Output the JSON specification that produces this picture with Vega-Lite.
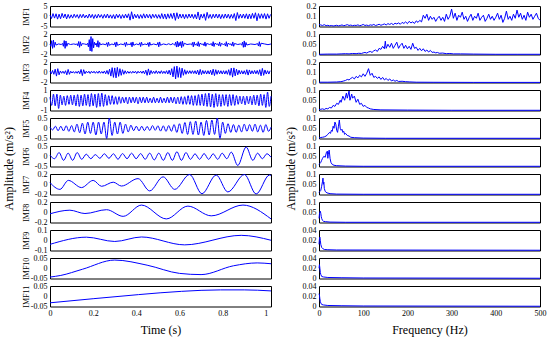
{
"$schema":"https://vega.github.io/schema/vega-lite/v6.json",
"padding":{"left":2,"top":1,"right":2,"bottom":1},
"config":{
"view":{"stroke":"#000","strokeWidth":1},
"axis":{"labelFont":"Liberation Serif","titleFont":"Liberation Serif","labelFontSize":8,"labelColor":"#000","titleColor":"#000","titleFontWeight":"normal","grid":false,"domain":false,"ticks":false,"labelOverlap":false,"labelFlush":false,"labelExpr":"toString(datum.value)"},
"axisY":{"labelPadding":3,"titleFontSize":8,"titleX":-20},
"axisX":{"titleFontSize":12,"titleFontWeight":"normal","labelPadding":3,"titlePadding":7},
"line":{"color":"#0000ff","strokeWidth":1},
"title":{"font":"Liberation Serif","fontSize":12,"fontWeight":"normal","color":"#000"},
"concat":{"spacing":7}
},
"datasets":{
"a1":[{"x":0,"y":0.6},{"x":0.007,"y":-1.1},{"x":0.014,"y":1.3},{"x":0.021,"y":-0.9},{"x":0.028,"y":1.2},{"x":0.035,"y":-1.4},{"x":0.042,"y":1},{"x":0.049,"y":-1.2},{"x":0.056,"y":1.4},{"x":0.063,"y":-0.8},{"x":0.07,"y":1.1},{"x":0.077,"y":-1.3},{"x":0.084,"y":0.9},{"x":0.091,"y":-1},{"x":0.098,"y":0.7},{"x":0.105,"y":-0.9},{"x":0.112,"y":1},{"x":0.119,"y":-0.6},{"x":0.126,"y":0.8},{"x":0.133,"y":-1},{"x":0.14,"y":0.9},{"x":0.147,"y":-0.7},{"x":0.154,"y":1},{"x":0.161,"y":-0.8},{"x":0.168,"y":0.6},{"x":0.175,"y":-0.9},{"x":0.182,"y":1.1},{"x":0.189,"y":-0.7},{"x":0.196,"y":0.9},{"x":0.203,"y":-1.1},{"x":0.21,"y":0.8},{"x":0.217,"y":-0.9},{"x":0.224,"y":1},{"x":0.231,"y":-0.6},{"x":0.238,"y":0.8},{"x":0.245,"y":-1},{"x":0.252,"y":0.9},{"x":0.259,"y":-0.8},{"x":0.266,"y":1.1},{"x":0.273,"y":-0.9},{"x":0.28,"y":0.7},{"x":0.287,"y":-1},{"x":0.294,"y":0.8},{"x":0.301,"y":-1.2},{"x":0.308,"y":1},{"x":0.315,"y":-0.7},{"x":0.322,"y":0.9},{"x":0.329,"y":-1.1},{"x":0.336,"y":0.8},{"x":0.343,"y":-0.9},{"x":0.35,"y":1},{"x":0.357,"y":-0.8},{"x":0.364,"y":1.2},{"x":0.371,"y":-1.9},{"x":0.378,"y":2.2},{"x":0.385,"y":-1.3},{"x":0.392,"y":1},{"x":0.399,"y":-0.8},{"x":0.406,"y":0.9},{"x":0.413,"y":-1.1},{"x":0.42,"y":0.8},{"x":0.427,"y":-1},{"x":0.434,"y":1.2},{"x":0.441,"y":-0.9},{"x":0.448,"y":1},{"x":0.455,"y":-0.8},{"x":0.462,"y":0.9},{"x":0.469,"y":-1.1},{"x":0.476,"y":1},{"x":0.483,"y":-0.7},{"x":0.49,"y":0.9},{"x":0.497,"y":-1},{"x":0.504,"y":0.8},{"x":0.511,"y":-1.1},{"x":0.518,"y":1.3},{"x":0.525,"y":-1.2},{"x":0.532,"y":1.1},{"x":0.539,"y":-1.4},{"x":0.546,"y":1.2},{"x":0.553,"y":-1},{"x":0.56,"y":1.3},{"x":0.567,"y":-1.1},{"x":0.574,"y":1.6},{"x":0.581,"y":-2},{"x":0.588,"y":1.7},{"x":0.595,"y":-1.2},{"x":0.602,"y":1.1},{"x":0.609,"y":-0.9},{"x":0.616,"y":1},{"x":0.623,"y":-1.2},{"x":0.63,"y":0.9},{"x":0.637,"y":-1},{"x":0.644,"y":1.1},{"x":0.651,"y":-0.8},{"x":0.658,"y":1},{"x":0.665,"y":-1.1},{"x":0.672,"y":0.9},{"x":0.679,"y":-1.3},{"x":0.686,"y":2.1},{"x":0.693,"y":-1.8},{"x":0.7,"y":1},{"x":0.707,"y":-0.9},{"x":0.714,"y":1.2},{"x":0.721,"y":-2},{"x":0.728,"y":1.9},{"x":0.735,"y":-1},{"x":0.742,"y":0.9},{"x":0.749,"y":-1.1},{"x":0.756,"y":1},{"x":0.763,"y":-0.8},{"x":0.77,"y":1.1},{"x":0.777,"y":-0.9},{"x":0.784,"y":1},{"x":0.791,"y":-1.2},{"x":0.798,"y":0.9},{"x":0.805,"y":-1},{"x":0.812,"y":1.1},{"x":0.819,"y":-0.9},{"x":0.826,"y":1},{"x":0.833,"y":-1.1},{"x":0.84,"y":0.9},{"x":0.847,"y":-1},{"x":0.854,"y":1.3},{"x":0.861,"y":-2.1},{"x":0.868,"y":1.8},{"x":0.875,"y":-1.1},{"x":0.882,"y":1},{"x":0.889,"y":-0.9},{"x":0.896,"y":1.1},{"x":0.903,"y":-1},{"x":0.91,"y":1.2},{"x":0.917,"y":-1.3},{"x":0.924,"y":1.1},{"x":0.931,"y":-1.2},{"x":0.938,"y":1.4},{"x":0.945,"y":-1},{"x":0.952,"y":1.7},{"x":0.959,"y":-2.2},{"x":0.966,"y":1.3},{"x":0.973,"y":-1.1},{"x":0.98,"y":1.2},{"x":0.987,"y":-1},{"x":0.994,"y":1.3},{"x":1.001,"y":-1.4},{"x":1.008,"y":1.2},{"x":1.015,"y":-1},{"x":1.022,"y":0.9}],
"a2":[{"x":0,"y":0.05},{"x":0.004,"y":-0.4},{"x":0.008,"y":0.7},{"x":0.012,"y":-0.8},{"x":0.016,"y":0.8},{"x":0.02,"y":-0.6},{"x":0.024,"y":0.4},{"x":0.028,"y":-0.15},{"x":0.04,"y":0.06},{"x":0.052,"y":-0.05},{"x":0.058,"y":0.16},{"x":0.062,"y":-0.4},{"x":0.066,"y":0.72},{"x":0.07,"y":-0.8},{"x":0.074,"y":0.64},{"x":0.078,"y":-0.4},{"x":0.082,"y":0.16},{"x":0.095,"y":-0.05},{"x":0.11,"y":0.06},{"x":0.122,"y":-0.05},{"x":0.125,"y":0.12},{"x":0.129,"y":-0.3},{"x":0.133,"y":0.54},{"x":0.137,"y":-0.6},{"x":0.141,"y":0.48},{"x":0.145,"y":-0.3},{"x":0.149,"y":0.12},{"x":0.16,"y":0.05},{"x":0.17,"y":-0.06},{"x":0.174,"y":0.2},{"x":0.178,"y":-0.5},{"x":0.182,"y":0.9},{"x":0.186,"y":-1.3},{"x":0.19,"y":1.5},{"x":0.194,"y":-1.4},{"x":0.198,"y":1.1},{"x":0.202,"y":-0.7},{"x":0.206,"y":0.4},{"x":0.21,"y":-0.15},{"x":0.214,"y":0.2},{"x":0.218,"y":-0.5},{"x":0.222,"y":0.7},{"x":0.226,"y":-0.6},{"x":0.23,"y":0.35},{"x":0.234,"y":-0.1},{"x":0.245,"y":0.05},{"x":0.259,"y":-0.1},{"x":0.263,"y":0.3},{"x":0.267,"y":-0.45},{"x":0.271,"y":0.4},{"x":0.275,"y":-0.2},{"x":0.287,"y":0.05},{"x":0.297,"y":-0.12},{"x":0.301,"y":0.35},{"x":0.305,"y":-0.5},{"x":0.309,"y":0.45},{"x":0.313,"y":-0.2},{"x":0.328,"y":0.05},{"x":0.342,"y":-0.1},{"x":0.346,"y":0.3},{"x":0.35,"y":-0.45},{"x":0.354,"y":0.4},{"x":0.358,"y":-0.15},{"x":0.366,"y":0.04},{"x":0.372,"y":-0.12},{"x":0.376,"y":0.35},{"x":0.38,"y":-0.5},{"x":0.384,"y":0.45},{"x":0.388,"y":-0.2},{"x":0.4,"y":0.05},{"x":0.412,"y":-0.1},{"x":0.416,"y":0.3},{"x":0.42,"y":-0.45},{"x":0.424,"y":0.4},{"x":0.428,"y":-0.15},{"x":0.44,"y":0.05},{"x":0.45,"y":-0.1},{"x":0.454,"y":0.3},{"x":0.458,"y":-0.45},{"x":0.462,"y":0.4},{"x":0.466,"y":-0.15},{"x":0.48,"y":0.05},{"x":0.496,"y":-0.12},{"x":0.5,"y":0.35},{"x":0.504,"y":-0.5},{"x":0.508,"y":0.45},{"x":0.512,"y":-0.2},{"x":0.525,"y":0.06},{"x":0.54,"y":-0.08},{"x":0.55,"y":0.1},{"x":0.56,"y":-0.1},{"x":0.57,"y":0.15},{"x":0.578,"y":-0.2},{"x":0.582,"y":0.4},{"x":0.586,"y":-0.55},{"x":0.59,"y":0.6},{"x":0.594,"y":-0.5},{"x":0.598,"y":0.35},{"x":0.602,"y":-0.3},{"x":0.606,"y":0.5},{"x":0.61,"y":-0.65},{"x":0.614,"y":0.6},{"x":0.618,"y":-0.4},{"x":0.622,"y":0.2},{"x":0.635,"y":-0.05},{"x":0.65,"y":0.05},{"x":0.656,"y":-0.12},{"x":0.66,"y":0.35},{"x":0.664,"y":-0.5},{"x":0.668,"y":0.45},{"x":0.672,"y":-0.2},{"x":0.679,"y":0.12},{"x":0.683,"y":-0.35},{"x":0.687,"y":0.5},{"x":0.691,"y":-0.45},{"x":0.695,"y":0.2},{"x":0.705,"y":-0.05},{"x":0.71,"y":0.1},{"x":0.714,"y":-0.3},{"x":0.718,"y":0.45},{"x":0.722,"y":-0.4},{"x":0.726,"y":0.15},{"x":0.74,"y":-0.05},{"x":0.748,"y":0.12},{"x":0.752,"y":-0.35},{"x":0.756,"y":0.5},{"x":0.76,"y":-0.45},{"x":0.764,"y":0.2},{"x":0.774,"y":-0.05},{"x":0.778,"y":0.1},{"x":0.782,"y":-0.3},{"x":0.786,"y":0.45},{"x":0.79,"y":-0.4},{"x":0.794,"y":0.15},{"x":0.804,"y":-0.05},{"x":0.809,"y":0.12},{"x":0.813,"y":-0.35},{"x":0.817,"y":0.5},{"x":0.821,"y":-0.45},{"x":0.825,"y":0.2},{"x":0.834,"y":-0.05},{"x":0.839,"y":0.1},{"x":0.843,"y":-0.3},{"x":0.847,"y":0.45},{"x":0.851,"y":-0.4},{"x":0.855,"y":0.15},{"x":0.87,"y":-0.05},{"x":0.882,"y":0.06},{"x":0.888,"y":-0.15},{"x":0.892,"y":0.4},{"x":0.896,"y":-0.6},{"x":0.9,"y":0.65},{"x":0.904,"y":-0.55},{"x":0.908,"y":0.35},{"x":0.912,"y":-0.15},{"x":0.93,"y":0.05},{"x":0.95,"y":-0.05},{"x":0.962,"y":0.12},{"x":0.966,"y":-0.35},{"x":0.97,"y":0.5},{"x":0.974,"y":-0.45},{"x":0.978,"y":0.2},{"x":0.995,"y":0.05},{"x":1.01,"y":-0.08},{"x":1.024,"y":0.05}],
"a3":[{"x":0,"y":0.25},{"x":0.006,"y":-0.3},{"x":0.012,"y":0.35},{"x":0.018,"y":-0.4},{"x":0.024,"y":0.6},{"x":0.03,"y":-0.75},{"x":0.036,"y":0.7},{"x":0.042,"y":-0.5},{"x":0.048,"y":0.25},{"x":0.054,"y":-0.2},{"x":0.06,"y":0.2},{"x":0.066,"y":-0.25},{"x":0.072,"y":0.3},{"x":0.078,"y":-0.5},{"x":0.084,"y":0.55},{"x":0.09,"y":-0.4},{"x":0.096,"y":0.2},{"x":0.102,"y":-0.15},{"x":0.108,"y":0.15},{"x":0.114,"y":-0.2},{"x":0.12,"y":0.15},{"x":0.126,"y":-0.2},{"x":0.132,"y":0.25},{"x":0.138,"y":-0.3},{"x":0.144,"y":0.55},{"x":0.15,"y":-0.65},{"x":0.156,"y":0.5},{"x":0.162,"y":-0.3},{"x":0.168,"y":0.2},{"x":0.174,"y":-0.15},{"x":0.18,"y":0.2},{"x":0.186,"y":-0.25},{"x":0.192,"y":0.2},{"x":0.198,"y":-0.15},{"x":0.204,"y":0.2},{"x":0.21,"y":-0.2},{"x":0.216,"y":0.15},{"x":0.222,"y":-0.2},{"x":0.228,"y":0.25},{"x":0.234,"y":-0.2},{"x":0.24,"y":0.15},{"x":0.246,"y":-0.2},{"x":0.252,"y":0.25},{"x":0.258,"y":-0.3},{"x":0.264,"y":0.35},{"x":0.27,"y":-0.4},{"x":0.276,"y":0.6},{"x":0.282,"y":-0.75},{"x":0.288,"y":0.9},{"x":0.294,"y":-1},{"x":0.3,"y":0.85},{"x":0.306,"y":-1.1},{"x":0.312,"y":0.95},{"x":0.318,"y":-0.8},{"x":0.324,"y":0.7},{"x":0.33,"y":-0.6},{"x":0.336,"y":0.5},{"x":0.342,"y":-0.4},{"x":0.348,"y":0.3},{"x":0.354,"y":-0.25},{"x":0.36,"y":0.2},{"x":0.366,"y":-0.2},{"x":0.372,"y":0.15},{"x":0.378,"y":-0.2},{"x":0.384,"y":0.2},{"x":0.39,"y":-0.15},{"x":0.396,"y":0.2},{"x":0.402,"y":-0.25},{"x":0.408,"y":0.2},{"x":0.414,"y":-0.15},{"x":0.42,"y":0.2},{"x":0.426,"y":-0.2},{"x":0.432,"y":0.25},{"x":0.438,"y":-0.3},{"x":0.444,"y":0.4},{"x":0.45,"y":-0.6},{"x":0.456,"y":0.65},{"x":0.462,"y":-0.5},{"x":0.468,"y":0.35},{"x":0.474,"y":-0.25},{"x":0.48,"y":0.2},{"x":0.486,"y":-0.25},{"x":0.492,"y":0.3},{"x":0.498,"y":-0.25},{"x":0.504,"y":0.2},{"x":0.51,"y":-0.25},{"x":0.516,"y":0.3},{"x":0.522,"y":-0.25},{"x":0.528,"y":0.2},{"x":0.534,"y":-0.25},{"x":0.54,"y":0.3},{"x":0.546,"y":-0.35},{"x":0.552,"y":0.4},{"x":0.558,"y":-0.5},{"x":0.564,"y":0.7},{"x":0.57,"y":-0.9},{"x":0.576,"y":1.1},{"x":0.582,"y":-1.3},{"x":0.588,"y":1.2},{"x":0.594,"y":-1},{"x":0.6,"y":0.9},{"x":0.606,"y":-1.05},{"x":0.612,"y":0.8},{"x":0.618,"y":-0.6},{"x":0.624,"y":0.5},{"x":0.63,"y":-0.4},{"x":0.636,"y":0.3},{"x":0.642,"y":-0.25},{"x":0.648,"y":0.3},{"x":0.654,"y":-0.25},{"x":0.66,"y":0.3},{"x":0.666,"y":-0.25},{"x":0.672,"y":0.3},{"x":0.678,"y":-0.35},{"x":0.684,"y":0.4},{"x":0.69,"y":-0.5},{"x":0.696,"y":0.55},{"x":0.702,"y":-0.45},{"x":0.708,"y":0.35},{"x":0.714,"y":-0.3},{"x":0.72,"y":0.3},{"x":0.726,"y":-0.35},{"x":0.732,"y":0.3},{"x":0.738,"y":-0.35},{"x":0.744,"y":0.4},{"x":0.75,"y":-0.5},{"x":0.756,"y":0.6},{"x":0.762,"y":-0.65},{"x":0.768,"y":0.5},{"x":0.774,"y":-0.4},{"x":0.78,"y":0.35},{"x":0.786,"y":-0.3},{"x":0.792,"y":0.3},{"x":0.798,"y":-0.35},{"x":0.804,"y":0.3},{"x":0.81,"y":-0.35},{"x":0.816,"y":0.3},{"x":0.822,"y":-0.4},{"x":0.828,"y":0.5},{"x":0.834,"y":-0.6},{"x":0.84,"y":0.8},{"x":0.846,"y":-0.95},{"x":0.852,"y":0.85},{"x":0.858,"y":-0.7},{"x":0.864,"y":0.6},{"x":0.87,"y":-0.5},{"x":0.876,"y":0.4},{"x":0.882,"y":-0.35},{"x":0.888,"y":0.3},{"x":0.894,"y":-0.35},{"x":0.9,"y":0.3},{"x":0.906,"y":-0.4},{"x":0.912,"y":0.5},{"x":0.918,"y":-0.55},{"x":0.924,"y":0.45},{"x":0.93,"y":-0.35},{"x":0.936,"y":0.3},{"x":0.942,"y":-0.3},{"x":0.948,"y":0.35},{"x":0.954,"y":-0.3},{"x":0.96,"y":0.35},{"x":0.966,"y":-0.4},{"x":0.972,"y":0.5},{"x":0.978,"y":-0.7},{"x":0.984,"y":0.75},{"x":0.99,"y":-0.6},{"x":0.996,"y":0.45},{"x":1.002,"y":-0.35},{"x":1.008,"y":0.3},{"x":1.014,"y":-0.35},{"x":1.02,"y":0.3}],
"a4":[{"x":0,"y":0.3},{"x":0.008,"y":-0.5},{"x":0.016,"y":0.6},{"x":0.024,"y":-0.55},{"x":0.032,"y":0.6},{"x":0.04,"y":-0.8},{"x":0.048,"y":0.5},{"x":0.056,"y":-0.45},{"x":0.064,"y":0.4},{"x":0.072,"y":-0.5},{"x":0.08,"y":0.45},{"x":0.088,"y":-0.4},{"x":0.096,"y":0.5},{"x":0.104,"y":-0.45},{"x":0.112,"y":0.5},{"x":0.12,"y":-0.55},{"x":0.128,"y":0.55},{"x":0.136,"y":-0.6},{"x":0.144,"y":0.5},{"x":0.152,"y":-0.55},{"x":0.16,"y":0.6},{"x":0.168,"y":-0.5},{"x":0.176,"y":0.55},{"x":0.184,"y":-0.6},{"x":0.192,"y":0.65},{"x":0.2,"y":-0.55},{"x":0.208,"y":0.6},{"x":0.216,"y":-0.7},{"x":0.224,"y":0.65},{"x":0.232,"y":-0.6},{"x":0.24,"y":0.7},{"x":0.248,"y":-0.6},{"x":0.256,"y":0.55},{"x":0.264,"y":-0.5},{"x":0.272,"y":0.45},{"x":0.28,"y":-0.4},{"x":0.288,"y":0.45},{"x":0.296,"y":-0.4},{"x":0.304,"y":0.35},{"x":0.312,"y":-0.4},{"x":0.32,"y":0.35},{"x":0.328,"y":-0.3},{"x":0.336,"y":0.3},{"x":0.344,"y":-0.25},{"x":0.352,"y":0.3},{"x":0.36,"y":-0.35},{"x":0.368,"y":0.3},{"x":0.376,"y":-0.25},{"x":0.384,"y":0.3},{"x":0.392,"y":-0.25},{"x":0.4,"y":0.3},{"x":0.408,"y":-0.35},{"x":0.416,"y":0.3},{"x":0.424,"y":-0.25},{"x":0.432,"y":0.3},{"x":0.44,"y":-0.25},{"x":0.448,"y":0.3},{"x":0.456,"y":-0.25},{"x":0.464,"y":0.2},{"x":0.472,"y":-0.25},{"x":0.48,"y":0.3},{"x":0.488,"y":-0.25},{"x":0.496,"y":0.2},{"x":0.504,"y":-0.25},{"x":0.512,"y":0.3},{"x":0.52,"y":-0.25},{"x":0.528,"y":0.2},{"x":0.536,"y":-0.25},{"x":0.544,"y":0.3},{"x":0.552,"y":-0.25},{"x":0.56,"y":0.3},{"x":0.568,"y":-0.25},{"x":0.576,"y":0.3},{"x":0.584,"y":-0.35},{"x":0.592,"y":0.3},{"x":0.6,"y":-0.35},{"x":0.608,"y":0.35},{"x":0.616,"y":-0.4},{"x":0.624,"y":0.35},{"x":0.632,"y":-0.4},{"x":0.64,"y":0.45},{"x":0.648,"y":-0.4},{"x":0.656,"y":0.45},{"x":0.664,"y":-0.5},{"x":0.672,"y":0.45},{"x":0.68,"y":-0.5},{"x":0.688,"y":0.55},{"x":0.696,"y":-0.5},{"x":0.704,"y":0.6},{"x":0.712,"y":-0.55},{"x":0.72,"y":0.65},{"x":0.728,"y":-0.6},{"x":0.736,"y":0.7},{"x":0.744,"y":-0.65},{"x":0.752,"y":0.6},{"x":0.76,"y":-0.7},{"x":0.768,"y":0.65},{"x":0.776,"y":-0.6},{"x":0.784,"y":0.55},{"x":0.792,"y":-0.6},{"x":0.8,"y":0.55},{"x":0.808,"y":-0.5},{"x":0.816,"y":0.55},{"x":0.824,"y":-0.6},{"x":0.832,"y":0.55},{"x":0.84,"y":-0.5},{"x":0.848,"y":0.55},{"x":0.856,"y":-0.5},{"x":0.864,"y":0.45},{"x":0.872,"y":-0.4},{"x":0.88,"y":0.4},{"x":0.888,"y":-0.35},{"x":0.896,"y":0.4},{"x":0.904,"y":-0.45},{"x":0.912,"y":0.4},{"x":0.92,"y":-0.35},{"x":0.928,"y":0.4},{"x":0.936,"y":-0.45},{"x":0.944,"y":0.5},{"x":0.952,"y":-0.45},{"x":0.96,"y":0.5},{"x":0.968,"y":-0.55},{"x":0.976,"y":0.6},{"x":0.984,"y":-0.5},{"x":0.992,"y":0.55},{"x":1,"y":-0.7},{"x":1.008,"y":0.8},{"x":1.016,"y":-0.6},{"x":1.024,"y":0.4}],
"a5":[{"x":0,"y":0.05},{"x":0.0125,"y":-0.08},{"x":0.025,"y":0.1},{"x":0.0375,"y":-0.12},{"x":0.05,"y":0.1},{"x":0.0625,"y":-0.13},{"x":0.075,"y":0.12},{"x":0.0875,"y":-0.15},{"x":0.1,"y":0.13},{"x":0.1125,"y":-0.18},{"x":0.125,"y":0.2},{"x":0.1375,"y":-0.22},{"x":0.15,"y":0.25},{"x":0.1625,"y":-0.28},{"x":0.175,"y":0.3},{"x":0.1875,"y":-0.25},{"x":0.2,"y":0.3},{"x":0.2125,"y":-0.33},{"x":0.225,"y":0.3},{"x":0.2375,"y":-0.28},{"x":0.25,"y":0.3},{"x":0.2625,"y":-0.5},{"x":0.275,"y":0.5},{"x":0.2875,"y":-0.35},{"x":0.3,"y":0.3},{"x":0.3125,"y":-0.28},{"x":0.325,"y":0.3},{"x":0.3375,"y":-0.25},{"x":0.35,"y":0.2},{"x":0.3625,"y":-0.18},{"x":0.375,"y":0.15},{"x":0.3875,"y":-0.12},{"x":0.4,"y":0.1},{"x":0.4125,"y":-0.13},{"x":0.425,"y":0.1},{"x":0.4375,"y":-0.12},{"x":0.45,"y":0.09},{"x":0.4625,"y":-0.11},{"x":0.475,"y":0.13},{"x":0.4875,"y":-0.1},{"x":0.5,"y":0.12},{"x":0.5125,"y":-0.14},{"x":0.525,"y":0.12},{"x":0.5375,"y":-0.15},{"x":0.55,"y":0.13},{"x":0.5625,"y":-0.15},{"x":0.575,"y":0.18},{"x":0.5875,"y":-0.2},{"x":0.6,"y":0.22},{"x":0.6125,"y":-0.25},{"x":0.625,"y":0.28},{"x":0.6375,"y":-0.3},{"x":0.65,"y":0.32},{"x":0.6625,"y":-0.3},{"x":0.675,"y":0.35},{"x":0.6875,"y":-0.33},{"x":0.7,"y":0.3},{"x":0.7125,"y":-0.35},{"x":0.725,"y":0.38},{"x":0.7375,"y":-0.33},{"x":0.75,"y":0.4},{"x":0.7625,"y":-0.3},{"x":0.775,"y":0.5},{"x":0.7875,"y":-0.5},{"x":0.8,"y":0.3},{"x":0.8125,"y":-0.25},{"x":0.825,"y":0.22},{"x":0.8375,"y":-0.2},{"x":0.85,"y":0.18},{"x":0.8625,"y":-0.2},{"x":0.875,"y":0.15},{"x":0.8875,"y":-0.18},{"x":0.9,"y":0.2},{"x":0.9125,"y":-0.15},{"x":0.925,"y":0.18},{"x":0.9375,"y":-0.15},{"x":0.95,"y":0.2},{"x":0.9625,"y":-0.18},{"x":0.975,"y":0.15},{"x":0.9875,"y":-0.2},{"x":1,"y":0.18},{"x":1.0125,"y":-0.15},{"x":1.024,"y":0.05}],
"a6":[{"x":0,"y":0.05},{"x":0.021,"y":-0.12},{"x":0.042,"y":0.18},{"x":0.063,"y":-0.2},{"x":0.084,"y":0.15},{"x":0.105,"y":-0.2},{"x":0.126,"y":0.18},{"x":0.147,"y":-0.15},{"x":0.168,"y":0.1},{"x":0.189,"y":-0.12},{"x":0.21,"y":0.08},{"x":0.231,"y":-0.1},{"x":0.252,"y":0.12},{"x":0.273,"y":-0.1},{"x":0.294,"y":0.12},{"x":0.315,"y":-0.15},{"x":0.336,"y":0.13},{"x":0.357,"y":-0.12},{"x":0.378,"y":0.15},{"x":0.399,"y":-0.12},{"x":0.42,"y":0.13},{"x":0.441,"y":-0.15},{"x":0.462,"y":0.15},{"x":0.483,"y":-0.18},{"x":0.504,"y":0.15},{"x":0.525,"y":-0.2},{"x":0.546,"y":0.18},{"x":0.567,"y":-0.2},{"x":0.588,"y":0.22},{"x":0.609,"y":-0.2},{"x":0.63,"y":0.18},{"x":0.651,"y":-0.15},{"x":0.672,"y":0.12},{"x":0.693,"y":-0.15},{"x":0.714,"y":0.13},{"x":0.735,"y":-0.15},{"x":0.756,"y":0.12},{"x":0.777,"y":-0.15},{"x":0.798,"y":0.15},{"x":0.819,"y":-0.12},{"x":0.84,"y":0.2},{"x":0.87,"y":-0.45},{"x":0.909,"y":0.45},{"x":0.94,"y":-0.2},{"x":0.962,"y":0.15},{"x":0.984,"y":-0.12},{"x":1.005,"y":0.12},{"x":1.024,"y":-0.05}],
"a7":[{"x":0,"y":0.03},{"x":0.046,"y":-0.1},{"x":0.085,"y":0.075},{"x":0.146,"y":-0.065},{"x":0.2,"y":0.075},{"x":0.239,"y":-0.04},{"x":0.293,"y":0.04},{"x":0.331,"y":-0.035},{"x":0.408,"y":0.11},{"x":0.462,"y":-0.13},{"x":0.524,"y":0.145},{"x":0.578,"y":-0.1},{"x":0.647,"y":0.19},{"x":0.704,"y":-0.185},{"x":0.77,"y":0.18},{"x":0.824,"y":-0.15},{"x":0.901,"y":0.19},{"x":0.955,"y":-0.19},{"x":1.017,"y":0.18},{"x":1.024,"y":0.17}],
"a8":[{"x":0,"y":-0.03},{"x":0.092,"y":0.04},{"x":0.162,"y":-0.025},{"x":0.262,"y":0.05},{"x":0.339,"y":-0.08},{"x":0.424,"y":0.14},{"x":0.539,"y":-0.13},{"x":0.639,"y":0.12},{"x":0.747,"y":-0.07},{"x":0.894,"y":0.14},{"x":1.024,"y":-0.13}],
"a9":[{"x":0,"y":-0.04},{"x":0.169,"y":0.03},{"x":0.3,"y":-0.012},{"x":0.424,"y":0.032},{"x":0.624,"y":-0.045},{"x":0.886,"y":0.048},{"x":1.024,"y":0}],
"a10":[{"x":0,"y":-0.043},{"x":0.05,"y":-0.035},{"x":0.15,"y":-0.005},{"x":0.3,"y":0.04},{"x":0.45,"y":0.015},{"x":0.6,"y":-0.025},{"x":0.7,"y":-0.031},{"x":0.85,"y":0.012},{"x":0.96,"y":0.026},{"x":1.024,"y":0.022}],
"a11":[{"x":0,"y":-0.032},{"x":0.2,"y":-0.012},{"x":0.41,"y":0.008},{"x":0.61,"y":0.024},{"x":0.79,"y":0.031},{"x":0.9,"y":0.031},{"x":1.024,"y":0.026}],
"b1":[{"x":0,"y":0.02},{"x":4,"y":0.015},{"x":8,"y":0.01},{"x":12,"y":0.018},{"x":16,"y":0.008},{"x":20,"y":0.012},{"x":24,"y":0.006},{"x":28,"y":0.01},{"x":32,"y":0.005},{"x":36,"y":0.008},{"x":40,"y":0.012},{"x":44,"y":0.006},{"x":48,"y":0.01},{"x":52,"y":0.015},{"x":56,"y":0.008},{"x":60,"y":0.012},{"x":64,"y":0.018},{"x":68,"y":0.01},{"x":72,"y":0.014},{"x":76,"y":0.008},{"x":80,"y":0.012},{"x":84,"y":0.01},{"x":88,"y":0.016},{"x":92,"y":0.008},{"x":96,"y":0.012},{"x":100,"y":0.02},{"x":104,"y":0.01},{"x":108,"y":0.014},{"x":112,"y":0.008},{"x":116,"y":0.016},{"x":120,"y":0.012},{"x":124,"y":0.02},{"x":128,"y":0.01},{"x":132,"y":0.015},{"x":136,"y":0.022},{"x":140,"y":0.012},{"x":144,"y":0.018},{"x":148,"y":0.025},{"x":152,"y":0.015},{"x":156,"y":0.028},{"x":160,"y":0.02},{"x":164,"y":0.03},{"x":168,"y":0.018},{"x":172,"y":0.032},{"x":176,"y":0.025},{"x":180,"y":0.035},{"x":184,"y":0.022},{"x":188,"y":0.04},{"x":192,"y":0.03},{"x":196,"y":0.045},{"x":200,"y":0.028},{"x":204,"y":0.05},{"x":208,"y":0.035},{"x":212,"y":0.045},{"x":216,"y":0.03},{"x":220,"y":0.055},{"x":224,"y":0.04},{"x":228,"y":0.06},{"x":232,"y":0.045},{"x":236,"y":0.11},{"x":240,"y":0.08},{"x":244,"y":0.12},{"x":248,"y":0.06},{"x":252,"y":0.1},{"x":256,"y":0.07},{"x":260,"y":0.09},{"x":264,"y":0.05},{"x":268,"y":0.08},{"x":272,"y":0.1},{"x":276,"y":0.06},{"x":280,"y":0.09},{"x":284,"y":0.05},{"x":288,"y":0.12},{"x":292,"y":0.07},{"x":296,"y":0.1},{"x":300,"y":0.17},{"x":304,"y":0.08},{"x":308,"y":0.13},{"x":312,"y":0.06},{"x":316,"y":0.11},{"x":320,"y":0.09},{"x":324,"y":0.14},{"x":328,"y":0.07},{"x":332,"y":0.1},{"x":336,"y":0.05},{"x":340,"y":0.09},{"x":344,"y":0.12},{"x":348,"y":0.06},{"x":352,"y":0.1},{"x":356,"y":0.08},{"x":360,"y":0.13},{"x":364,"y":0.06},{"x":368,"y":0.09},{"x":372,"y":0.11},{"x":376,"y":0.05},{"x":380,"y":0.08},{"x":384,"y":0.12},{"x":388,"y":0.07},{"x":392,"y":0.1},{"x":396,"y":0.06},{"x":400,"y":0.09},{"x":404,"y":0.13},{"x":408,"y":0.07},{"x":412,"y":0.11},{"x":416,"y":0.04},{"x":420,"y":0.08},{"x":424,"y":0.15},{"x":428,"y":0.07},{"x":432,"y":0.1},{"x":436,"y":0.06},{"x":440,"y":0.12},{"x":444,"y":0.08},{"x":448,"y":0.16},{"x":452,"y":0.09},{"x":456,"y":0.13},{"x":460,"y":0.07},{"x":464,"y":0.11},{"x":468,"y":0.06},{"x":472,"y":0.14},{"x":476,"y":0.09},{"x":480,"y":0.12},{"x":484,"y":0.07},{"x":488,"y":0.1},{"x":492,"y":0.13},{"x":496,"y":0.08},{"x":500,"y":0.06}],
"b2":[{"x":0,"y":0.001},{"x":20,"y":0.002},{"x":40,"y":0.002},{"x":50,"y":0.003},{"x":60,"y":0.004},{"x":68,"y":0.003},{"x":76,"y":0.005},{"x":84,"y":0.004},{"x":90,"y":0.006},{"x":96,"y":0.005},{"x":100,"y":0.008},{"x":104,"y":0.01},{"x":108,"y":0.007},{"x":112,"y":0.012},{"x":116,"y":0.015},{"x":120,"y":0.01},{"x":124,"y":0.018},{"x":128,"y":0.022},{"x":132,"y":0.015},{"x":136,"y":0.03},{"x":140,"y":0.025},{"x":144,"y":0.04},{"x":148,"y":0.028},{"x":150,"y":0.065},{"x":152,"y":0.03},{"x":156,"y":0.05},{"x":160,"y":0.035},{"x":164,"y":0.055},{"x":168,"y":0.03},{"x":172,"y":0.045},{"x":176,"y":0.06},{"x":180,"y":0.03},{"x":184,"y":0.045},{"x":188,"y":0.055},{"x":192,"y":0.03},{"x":196,"y":0.045},{"x":200,"y":0.028},{"x":204,"y":0.04},{"x":208,"y":0.025},{"x":212,"y":0.055},{"x":216,"y":0.03},{"x":220,"y":0.035},{"x":224,"y":0.02},{"x":228,"y":0.03},{"x":232,"y":0.018},{"x":236,"y":0.028},{"x":240,"y":0.015},{"x":244,"y":0.022},{"x":248,"y":0.012},{"x":252,"y":0.02},{"x":256,"y":0.01},{"x":260,"y":0.012},{"x":264,"y":0.008},{"x":268,"y":0.01},{"x":272,"y":0.006},{"x":280,"y":0.007},{"x":288,"y":0.004},{"x":296,"y":0.005},{"x":304,"y":0.003},{"x":320,"y":0.003},{"x":350,"y":0.002},{"x":400,"y":0.001},{"x":450,"y":0.001},{"x":500,"y":0.001}],
"b3":[{"x":0,"y":0.003},{"x":20,"y":0.003},{"x":40,"y":0.005},{"x":48,"y":0.008},{"x":52,"y":0.01},{"x":56,"y":0.015},{"x":60,"y":0.02},{"x":64,"y":0.03},{"x":68,"y":0.025},{"x":72,"y":0.04},{"x":76,"y":0.05},{"x":80,"y":0.035},{"x":84,"y":0.06},{"x":88,"y":0.045},{"x":92,"y":0.07},{"x":96,"y":0.055},{"x":100,"y":0.085},{"x":104,"y":0.06},{"x":108,"y":0.09},{"x":112,"y":0.135},{"x":116,"y":0.07},{"x":120,"y":0.09},{"x":124,"y":0.05},{"x":128,"y":0.06},{"x":132,"y":0.04},{"x":136,"y":0.055},{"x":140,"y":0.03},{"x":144,"y":0.05},{"x":148,"y":0.025},{"x":152,"y":0.04},{"x":156,"y":0.02},{"x":160,"y":0.035},{"x":164,"y":0.015},{"x":168,"y":0.025},{"x":172,"y":0.012},{"x":176,"y":0.02},{"x":180,"y":0.01},{"x":188,"y":0.012},{"x":196,"y":0.008},{"x":204,"y":0.006},{"x":220,"y":0.003},{"x":260,"y":0.002},{"x":350,"y":0.001},{"x":500,"y":0.001}],
"b4":[{"x":0,"y":0.004},{"x":4,"y":0.006},{"x":8,"y":0.008},{"x":12,"y":0.005},{"x":16,"y":0.01},{"x":20,"y":0.008},{"x":24,"y":0.015},{"x":28,"y":0.012},{"x":32,"y":0.025},{"x":36,"y":0.02},{"x":40,"y":0.035},{"x":44,"y":0.03},{"x":48,"y":0.05},{"x":50,"y":0.04},{"x":54,"y":0.07},{"x":58,"y":0.05},{"x":62,"y":0.085},{"x":64,"y":0.06},{"x":68,"y":0.095},{"x":70,"y":0.05},{"x":74,"y":0.08},{"x":76,"y":0.06},{"x":80,"y":0.07},{"x":84,"y":0.04},{"x":88,"y":0.055},{"x":92,"y":0.03},{"x":96,"y":0.035},{"x":100,"y":0.02},{"x":104,"y":0.025},{"x":108,"y":0.015},{"x":112,"y":0.012},{"x":116,"y":0.008},{"x":124,"y":0.005},{"x":140,"y":0.003},{"x":200,"y":0.002},{"x":300,"y":0.001},{"x":500,"y":0.001}],
"b5":[{"x":0,"y":0.003},{"x":4,"y":0.005},{"x":8,"y":0.006},{"x":12,"y":0.008},{"x":16,"y":0.012},{"x":20,"y":0.02},{"x":24,"y":0.03},{"x":26,"y":0.025},{"x":28,"y":0.04},{"x":30,"y":0.035},{"x":32,"y":0.06},{"x":34,"y":0.05},{"x":36,"y":0.08},{"x":38,"y":0.07},{"x":40,"y":0.04},{"x":42,"y":0.03},{"x":44,"y":0.06},{"x":46,"y":0.09},{"x":48,"y":0.05},{"x":50,"y":0.04},{"x":52,"y":0.045},{"x":54,"y":0.03},{"x":56,"y":0.035},{"x":58,"y":0.02},{"x":60,"y":0.025},{"x":64,"y":0.015},{"x":68,"y":0.012},{"x":72,"y":0.006},{"x":80,"y":0.004},{"x":100,"y":0.002},{"x":150,"y":0.001},{"x":500,"y":0.001}],
"b6":[{"x":0,"y":0.01},{"x":2,"y":0.015},{"x":4,"y":0.02},{"x":6,"y":0.03},{"x":8,"y":0.04},{"x":11,"y":0.05},{"x":14,"y":0.045},{"x":17,"y":0.07},{"x":19,"y":0.075},{"x":20,"y":0.04},{"x":21,"y":0.06},{"x":23,"y":0.08},{"x":25,"y":0.04},{"x":27,"y":0.02},{"x":30,"y":0.01},{"x":34,"y":0.006},{"x":40,"y":0.004},{"x":60,"y":0.002},{"x":100,"y":0.001},{"x":500,"y":0.001}],
"b7":[{"x":0,"y":0.01},{"x":2,"y":0.015},{"x":4,"y":0.02},{"x":6,"y":0.04},{"x":8,"y":0.065},{"x":9,"y":0.08},{"x":10,"y":0.05},{"x":11,"y":0.06},{"x":12,"y":0.03},{"x":14,"y":0.015},{"x":18,"y":0.008},{"x":25,"y":0.004},{"x":40,"y":0.002},{"x":100,"y":0.001},{"x":500,"y":0.001}],
"b8":[{"x":0,"y":0.02},{"x":1,"y":0.04},{"x":2,"y":0.05},{"x":3,"y":0.055},{"x":4,"y":0.045},{"x":5,"y":0.03},{"x":6,"y":0.02},{"x":8,"y":0.01},{"x":10,"y":0.006},{"x":15,"y":0.004},{"x":25,"y":0.002},{"x":60,"y":0.001},{"x":500,"y":0.001}],
"b9":[{"x":0,"y":0.012},{"x":1,"y":0.022},{"x":2,"y":0.026},{"x":3,"y":0.02},{"x":4,"y":0.012},{"x":6,"y":0.006},{"x":8,"y":0.004},{"x":12,"y":0.002},{"x":20,"y":0.0015},{"x":40,"y":0.001},{"x":500,"y":0.0005}],
"b10":[{"x":0,"y":0.02},{"x":1,"y":0.027},{"x":2,"y":0.02},{"x":3,"y":0.012},{"x":4,"y":0.008},{"x":6,"y":0.004},{"x":10,"y":0.003},{"x":20,"y":0.002},{"x":50,"y":0.0015},{"x":100,"y":0.001},{"x":500,"y":0.0005}],
"b11":[{"x":0,"y":0.025},{"x":1,"y":0.022},{"x":2,"y":0.015},{"x":3,"y":0.01},{"x":4,"y":0.007},{"x":6,"y":0.004},{"x":10,"y":0.003},{"x":20,"y":0.002},{"x":50,"y":0.0015},{"x":100,"y":0.001},{"x":500,"y":0.0005}]
},
"spacing":10,
"hconcat":[
{"title":{"text":"Amplitude (m/s²)","orient":"left","anchor":"middle","offset":6},
"bounds":"flush",
"vconcat":[
{"width":221,"height":20.5,"data":{"name":"a1"},"mark":"line","encoding":{"x":{"field":"x","type":"quantitative","scale":{"domain":[0,1.024],"nice":false},"axis":null},"y":{"field":"y","type":"quantitative","scale":{"domain":[-5,5],"nice":false},"axis":{"values":[-5,0,5],"title":"IMF1"}}}},
{"width":221,"height":20.5,"data":{"name":"a2"},"mark":"line","encoding":{"x":{"field":"x","type":"quantitative","scale":{"domain":[0,1.024],"nice":false},"axis":null},"y":{"field":"y","type":"quantitative","scale":{"domain":[-2,2],"nice":false},"axis":{"values":[-2,0,2],"title":"IMF2"}}}},
{"width":221,"height":20.5,"data":{"name":"a3"},"mark":"line","encoding":{"x":{"field":"x","type":"quantitative","scale":{"domain":[0,1.024],"nice":false},"axis":null},"y":{"field":"y","type":"quantitative","scale":{"domain":[-2,2],"nice":false},"axis":{"values":[-2,0,2],"title":"IMF3"}}}},
{"width":221,"height":20.5,"data":{"name":"a4"},"mark":{"type":"line","interpolate":"monotone"},"encoding":{"x":{"field":"x","type":"quantitative","scale":{"domain":[0,1.024],"nice":false},"axis":null},"y":{"field":"y","type":"quantitative","scale":{"domain":[-1,1],"nice":false},"axis":{"values":[-1,0,1],"title":"IMF4"}}}},
{"width":221,"height":20.5,"data":{"name":"a5"},"mark":{"type":"line","interpolate":"monotone"},"encoding":{"x":{"field":"x","type":"quantitative","scale":{"domain":[0,1.024],"nice":false},"axis":null},"y":{"field":"y","type":"quantitative","scale":{"domain":[-0.5,0.5],"nice":false},"axis":{"values":[-0.5,0,0.5],"title":"IMF5"}}}},
{"width":221,"height":20.5,"data":{"name":"a6"},"mark":{"type":"line","interpolate":"monotone"},"encoding":{"x":{"field":"x","type":"quantitative","scale":{"domain":[0,1.024],"nice":false},"axis":null},"y":{"field":"y","type":"quantitative","scale":{"domain":[-0.5,0.5],"nice":false},"axis":{"values":[-0.5,0,0.5],"title":"IMF6"}}}},
{"width":221,"height":20.5,"data":{"name":"a7"},"mark":{"type":"line","interpolate":"monotone"},"encoding":{"x":{"field":"x","type":"quantitative","scale":{"domain":[0,1.024],"nice":false},"axis":null},"y":{"field":"y","type":"quantitative","scale":{"domain":[-0.2,0.2],"nice":false},"axis":{"values":[-0.2,0,0.2],"title":"IMF7"}}}},
{"width":221,"height":20.5,"data":{"name":"a8"},"mark":{"type":"line","interpolate":"monotone"},"encoding":{"x":{"field":"x","type":"quantitative","scale":{"domain":[0,1.024],"nice":false},"axis":null},"y":{"field":"y","type":"quantitative","scale":{"domain":[-0.2,0.2],"nice":false},"axis":{"values":[-0.2,0,0.2],"title":"IMF8"}}}},
{"width":221,"height":20.5,"data":{"name":"a9"},"mark":{"type":"line","interpolate":"monotone"},"encoding":{"x":{"field":"x","type":"quantitative","scale":{"domain":[0,1.024],"nice":false},"axis":null},"y":{"field":"y","type":"quantitative","scale":{"domain":[-0.1,0.1],"nice":false},"axis":{"values":[-0.1,0,0.1],"title":"IMF9"}}}},
{"width":221,"height":20.5,"data":{"name":"a10"},"mark":{"type":"line","interpolate":"monotone"},"encoding":{"x":{"field":"x","type":"quantitative","scale":{"domain":[0,1.024],"nice":false},"axis":null},"y":{"field":"y","type":"quantitative","scale":{"domain":[-0.05,0.05],"nice":false},"axis":{"values":[-0.05,0,0.05],"title":"IMF10"}}}},
{"width":221,"height":20.5,"data":{"name":"a11"},"mark":{"type":"line","interpolate":"monotone"},"encoding":{"x":{"field":"x","type":"quantitative","scale":{"domain":[0,1.024],"nice":false},"axis":{"values":[0,0.2,0.4,0.6,0.8,1],"title":"Time (s)"}},"y":{"field":"y","type":"quantitative","scale":{"domain":[-0.05,0.05],"nice":false},"axis":{"values":[-0.05,0,0.05],"title":"IMF11"}}}}
]},
{"title":{"text":"Amplitude (m/s²)","orient":"left","anchor":"middle","offset":4},
"bounds":"flush",
"vconcat":[
{"width":221,"height":20.5,"data":{"name":"b1"},"mark":"line","encoding":{"x":{"field":"x","type":"quantitative","scale":{"domain":[0,500],"nice":false},"axis":null},"y":{"field":"y","type":"quantitative","scale":{"domain":[0,0.2],"nice":false},"axis":{"values":[0,0.1,0.2],"title":null}}}},
{"width":221,"height":20.5,"data":{"name":"b2"},"mark":"line","encoding":{"x":{"field":"x","type":"quantitative","scale":{"domain":[0,500],"nice":false},"axis":null},"y":{"field":"y","type":"quantitative","scale":{"domain":[0,0.1],"nice":false},"axis":{"values":[0,0.05,0.1],"title":null}}}},
{"width":221,"height":20.5,"data":{"name":"b3"},"mark":"line","encoding":{"x":{"field":"x","type":"quantitative","scale":{"domain":[0,500],"nice":false},"axis":null},"y":{"field":"y","type":"quantitative","scale":{"domain":[0,0.2],"nice":false},"axis":{"values":[0,0.1,0.2],"title":null}}}},
{"width":221,"height":20.5,"data":{"name":"b4"},"mark":"line","encoding":{"x":{"field":"x","type":"quantitative","scale":{"domain":[0,500],"nice":false},"axis":null},"y":{"field":"y","type":"quantitative","scale":{"domain":[0,0.1],"nice":false},"axis":{"values":[0,0.05,0.1],"title":null}}}},
{"width":221,"height":20.5,"data":{"name":"b5"},"mark":"line","encoding":{"x":{"field":"x","type":"quantitative","scale":{"domain":[0,500],"nice":false},"axis":null},"y":{"field":"y","type":"quantitative","scale":{"domain":[0,0.1],"nice":false},"axis":{"values":[0,0.05,0.1],"title":null}}}},
{"width":221,"height":20.5,"data":{"name":"b6"},"mark":"line","encoding":{"x":{"field":"x","type":"quantitative","scale":{"domain":[0,500],"nice":false},"axis":null},"y":{"field":"y","type":"quantitative","scale":{"domain":[0,0.1],"nice":false},"axis":{"values":[0,0.05,0.1],"title":null}}}},
{"width":221,"height":20.5,"data":{"name":"b7"},"mark":"line","encoding":{"x":{"field":"x","type":"quantitative","scale":{"domain":[0,500],"nice":false},"axis":null},"y":{"field":"y","type":"quantitative","scale":{"domain":[0,0.1],"nice":false},"axis":{"values":[0,0.05,0.1],"title":null}}}},
{"width":221,"height":20.5,"data":{"name":"b8"},"mark":"line","encoding":{"x":{"field":"x","type":"quantitative","scale":{"domain":[0,500],"nice":false},"axis":null},"y":{"field":"y","type":"quantitative","scale":{"domain":[0,0.1],"nice":false},"axis":{"values":[0,0.05,0.1],"title":null}}}},
{"width":221,"height":20.5,"data":{"name":"b9"},"mark":"line","encoding":{"x":{"field":"x","type":"quantitative","scale":{"domain":[0,500],"nice":false},"axis":null},"y":{"field":"y","type":"quantitative","scale":{"domain":[0,0.04],"nice":false},"axis":{"values":[0,0.02,0.04],"title":null}}}},
{"width":221,"height":20.5,"data":{"name":"b10"},"mark":"line","encoding":{"x":{"field":"x","type":"quantitative","scale":{"domain":[0,500],"nice":false},"axis":null},"y":{"field":"y","type":"quantitative","scale":{"domain":[0,0.04],"nice":false},"axis":{"values":[0,0.02,0.04],"title":null}}}},
{"width":221,"height":20.5,"data":{"name":"b11"},"mark":"line","encoding":{"x":{"field":"x","type":"quantitative","scale":{"domain":[0,500],"nice":false},"axis":{"values":[0,100,200,300,400,500],"title":"Frequency (Hz)"}},"y":{"field":"y","type":"quantitative","scale":{"domain":[0,0.04],"nice":false},"axis":{"values":[0,0.02,0.04],"title":null}}}}
]}
]
}
